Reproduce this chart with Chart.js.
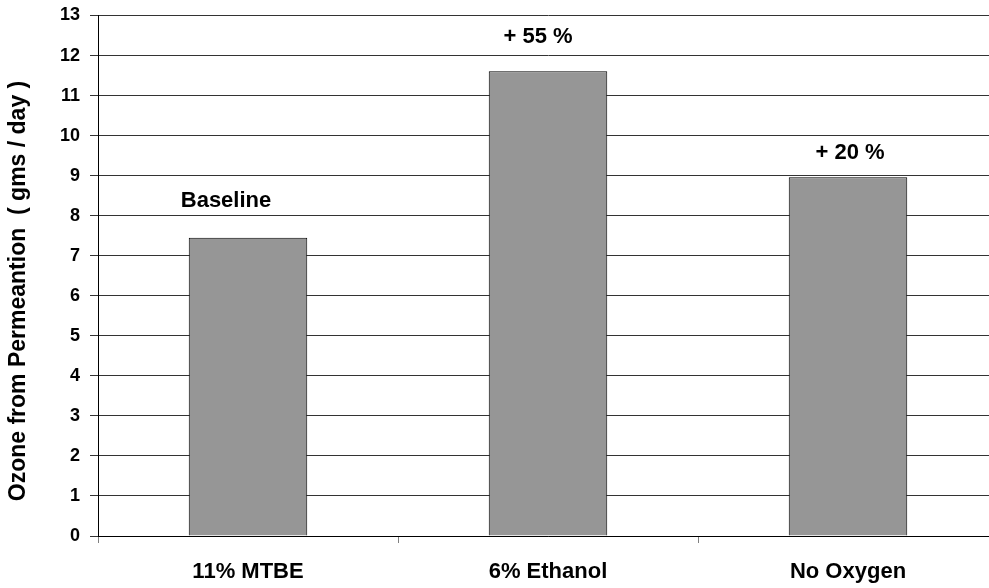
<!DOCTYPE html>
<html>
<head>
<meta charset="utf-8">
<script src="https://cdn.jsdelivr.net/npm/chart.js@4.4.1/dist/chart.umd.min.js"></script>
<style>
    html, body { margin: 0; padding: 0; background: #fff; overflow: hidden; }
    #wrap { width: 1000px; height: 588px; position: relative; }
</style>
</head>
<body>
<div id="wrap"><canvas id="ozoneChart"></canvas></div>
<script>
// ────────────────────────────────────────
// Données
// ────────────────────────────────────────
const categories = ['11% MTBE', '6% Ethanol', 'No Oxygen'];
const ozoneValues = [7.45, 11.61, 8.96];
const barNotes = ['Baseline', '+ 55 %', '+ 20 %'];
const yTicks = [0, 1, 2, 3, 4, 5, 6, 7, 8, 9, 10, 11, 12, 13];
const yTitle = 'Ozone from Permeantion  ( gms / day )';

// décalage (px) des annotations par rapport au haut de la barre
const NOTE_SHIFT = [[-22, 37], [-10, 34], [2, 24]];
const FONT = 'Liberation Sans, Arial, Helvetica, sans-serif';

// Annotations au-dessus des barres
const notesPlugin = {
    id: 'barNotes',
    afterDatasetsDraw(chart) {
        const { ctx } = chart;
        const meta = chart.getDatasetMeta(0);
        ctx.save();
        ctx.font = `bold 22px ${FONT}`;
        ctx.fillStyle = '#000';
        ctx.textAlign = 'center';
        ctx.textBaseline = 'middle';
        meta.data.forEach((bar, i) => {
            const [dx, dy] = NOTE_SHIFT[i];
            ctx.fillText(barNotes[i], bar.x + dx, bar.y - dy);
        });
        ctx.restore();
    },
};

// Titre de l'axe Y (décalé vers le bas comme sur l'original)
const yTitlePlugin = {
    id: 'yTitle',
    afterDraw(chart) {
        const { ctx } = chart;
        ctx.save();
        ctx.translate(19, 291);
        ctx.rotate(-Math.PI / 2);
        ctx.font = `bold 23px ${FONT}`;
        ctx.fillStyle = '#000';
        ctx.textAlign = 'center';
        ctx.textBaseline = 'middle';
        ctx.fillText(yTitle, 0, 0);
        ctx.restore();
    },
};

new Chart(document.getElementById('ozoneChart'), {
    type: 'bar',
    data: {
        labels: categories,
        datasets: [{
            data: ozoneValues,
            backgroundColor: '#969696',
            borderColor: '#000',
            borderWidth: 1,
            borderSkipped: 'bottom',
            barPercentage: 0.395,
            categoryPercentage: 1,
        }],
    },
    options: {
        responsive: true,
        maintainAspectRatio: false,
        animation: false,
        devicePixelRatio: 1,
        layout: { padding: { top: 15.5, right: 2, left: 0, bottom: 0 } },
        plugins: {
            legend: { display: false },
            tooltip: { enabled: false },
        },
        scales: {
            x: {
                grid: {
                    drawOnChartArea: false,
                    drawTicks: true,
                    tickLength: 7,
                    color: '#808080',
                },
                border: { color: '#000', width: 1 },
                ticks: {
                    color: '#000',
                    padding: 16,
                    maxRotation: 0,
                    font: { family: FONT, size: 22, weight: 'bold' },
                },
                afterFit(scale) {
                    scale.height = 52;
                    scale.paddingLeft = 0;
                    scale.paddingRight = 0;
                },
            },
            y: {
                min: 0,
                max: 13,
                afterBuildTicks(scale) {
                    scale.ticks = yTicks.map(v => ({ value: v }));
                },
                grid: {
                    color: '#333',
                    lineWidth: 1,
                    drawTicks: true,
                    tickLength: 8,
                },
                border: { color: '#000', width: 1 },
                ticks: {
                    color: '#000',
                    padding: 10,
                    font: { family: FONT, size: 18, weight: 'bold' },
                },
                afterFit(scale) {
                    scale.width = 98;
                    scale.paddingTop = 0;
                    scale.paddingBottom = 0;
                },
            },
        },
    },
    plugins: [notesPlugin, yTitlePlugin],
});
</script>
</body>
</html>
